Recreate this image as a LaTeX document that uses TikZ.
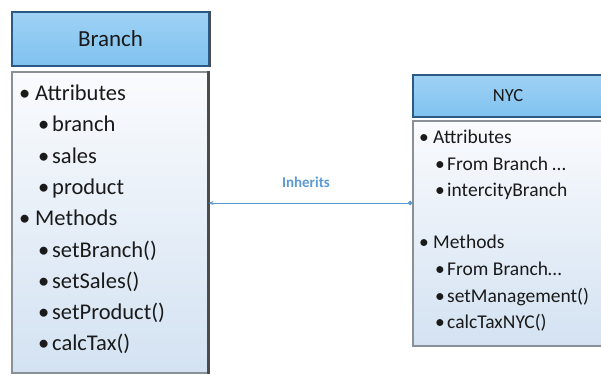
\documentclass[tikz,border=0pt]{standalone}
\usepackage{fontspec}
\setmainfont{Carlito}
\usetikzlibrary{arrows.meta}
\definecolor{hdrfill}{HTML}{7FC2F0}
\definecolor{hdrline}{HTML}{2A5A85}
\definecolor{bodytop}{HTML}{FAFBFD}
\definecolor{bodybot}{HTML}{D3E2F2}
\definecolor{edgegray}{HTML}{8A9096}
\definecolor{arrblue}{HTML}{5B9BD5}
\definecolor{txt}{HTML}{1A1A1A}
\tikzset{
  hdr/.style={draw=hdrline, line width=1.8pt, top color=hdrfill!75!white, bottom color=hdrfill, inner sep=0pt, text=txt},
  bodybox/.style={draw=edgegray, line width=1.2pt, top color=bodytop, bottom color=bodybot, inner sep=0pt},
  shade/.style={draw=black!70, line width=2.5pt},
  itm/.style={anchor=base west, inner sep=0pt, text=txt},
  conn/.style={draw=arrblue, line width=1pt, {Stealth[length=5pt,width=4pt]}-{Circle[length=4.5pt]}},
  lbl/.style={text=arrblue, font=\bfseries\fontsize{15}{18}\selectfont, inner sep=0pt}
}
\begin{document}
\begin{tikzpicture}[x=1pt,y=-1pt]
\clip (0,0) rectangle (601,380);
\fill[white] (0,0) rectangle (601,380);
% Branch class
\node[bodybox, minimum width=196pt, minimum height=301pt] (bb) at (110,222.5) {};
\draw[shade] (bb.north east) -- (bb.south east);
\node[hdr, minimum width=197pt, minimum height=54pt, font=\fontsize{23}{27}\selectfont] (bh) at (110.5,39) {Branch};
\draw[shade] (bh.north east) -- (bh.south east);
\foreach \n/\lv/\yy/\t in {1/1/100/Attributes, 2/2/131/branch, 3/2/163/sales, 4/2/194/product, 5/1/225/Methods, 6/2/257/setBranch(), 7/2/288/setSales(), 8/2/319/setProduct(), 9/2/350/calcTax()}{
  \ifnum\lv=1
    \node[itm, font=\fontsize{22.5}{26}\selectfont] (bbul\n) at (19,\yy) {•};
    \node[itm, font=\fontsize{22.5}{26}\selectfont] (btx\n) at (35,\yy) {\t};
  \else
    \node[itm, font=\fontsize{22.5}{26}\selectfont] (bbul\n) at (38,\yy) {•};
    \node[itm, font=\fontsize{22.5}{26}\selectfont] (btx\n) at (52,\yy) {\t};
  \fi
}
% NYC class
\node[bodybox, minimum width=190pt, minimum height=225pt] (nb) at (508,233.5) {};
\node[hdr, minimum width=190pt, minimum height=42pt, font=\fontsize{18.5}{22}\selectfont] (nh) at (508,96) {NYC};
\foreach \n/\lv/\yy/\t in {1/1/143/Attributes, 2/2/170/From Branch \ldots, 3/2/196/intercityBranch, 4/1/248/Methods, 5/2/275/From Branch\ldots, 6/2/302/setManagement(), 7/2/328/calcTaxNYC()}{
  \ifnum\lv=1
    \node[itm, font=\fontsize{19.5}{23}\selectfont] (nbul\n) at (419,\yy) {•};
    \node[itm, font=\fontsize{19.5}{23}\selectfont] (ntx\n) at (433,\yy) {\t};
  \else
    \node[itm, font=\fontsize{19.5}{23}\selectfont] (nbul\n) at (435,\yy) {•};
    \node[itm, font=\fontsize{19.5}{23}\selectfont] (ntx\n) at (447,\yy) {\t};
  \fi
}
% inheritance connector
\coordinate (ay) at (0,203);
\draw[conn] (bb.east |- ay) -- (nb.west |- ay);
\node[lbl] (inh) at (306,182) {Inherits};
\end{tikzpicture}
\end{document}
